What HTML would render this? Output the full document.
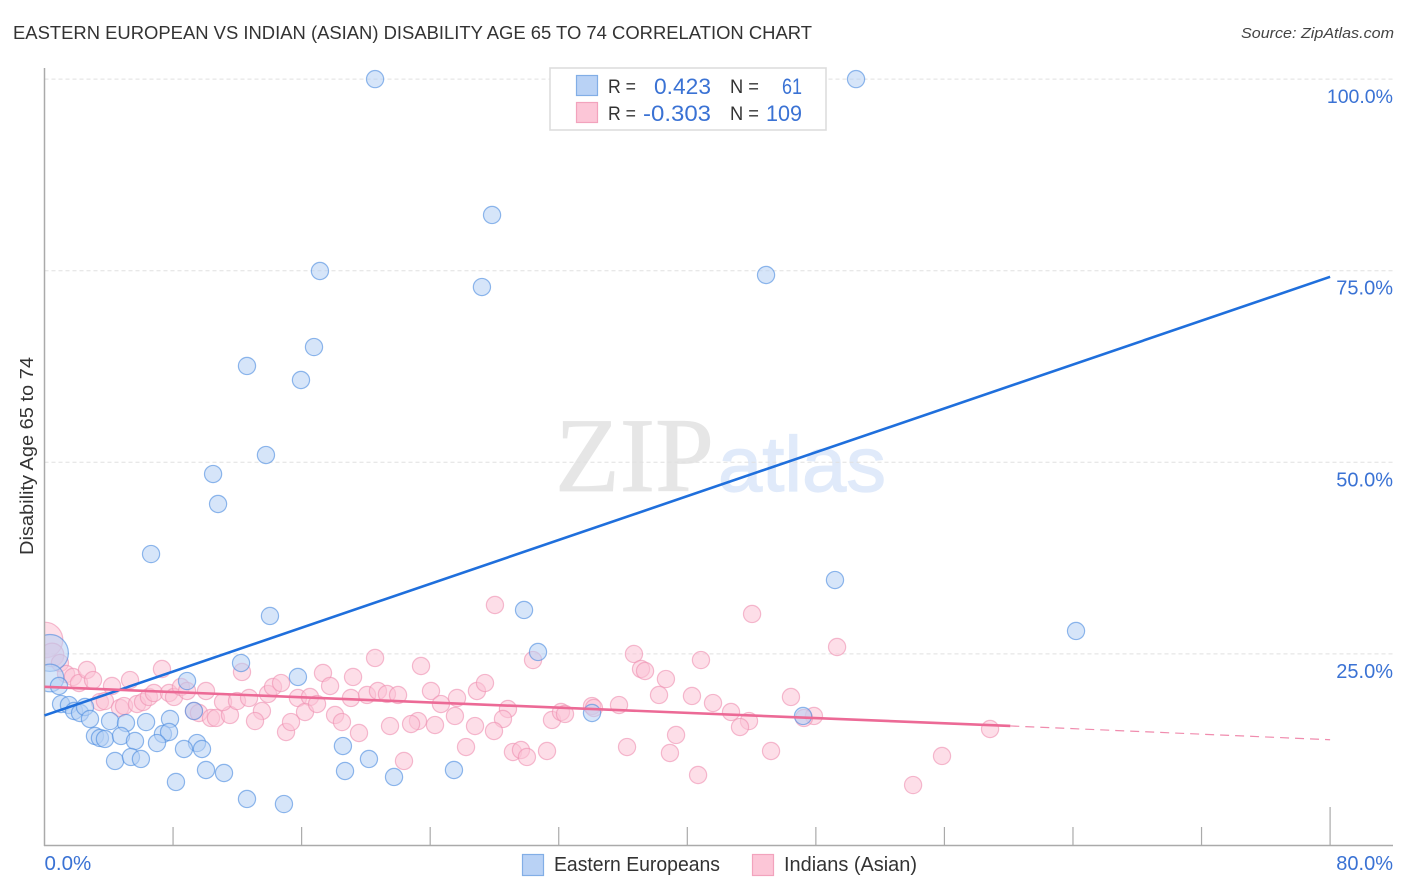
<!DOCTYPE html>
<html lang="en">
<head>
<meta charset="utf-8">
<title>Eastern European vs Indian (Asian) Disability Age 65 to 74 Correlation Chart</title>
<style>
html,body{margin:0;padding:0;background:#fff;}
svg{display:block;font-family:"Liberation Sans",sans-serif;}
</style>
</head>
<body>
<svg id="chart" xmlns="http://www.w3.org/2000/svg" width="1406" height="892" viewBox="0 0 1406 892">
  <rect x="0" y="0" width="1406" height="892" fill="#fff"></rect>
  <text x="13" y="39" font-size="18.5" fill="#333" textLength="799" lengthAdjust="spacingAndGlyphs">EASTERN EUROPEAN VS INDIAN (ASIAN) DISABILITY AGE 65 TO 74 CORRELATION CHART</text>
  <text x="1394" y="38" font-size="15" font-style="italic" fill="#444" text-anchor="end" textLength="153" lengthAdjust="spacingAndGlyphs">Source: ZipAtlas.com</text>
  <g>
    <text x="555" y="491" font-family="'Liberation Serif',serif" font-size="106" fill="#e6e6e6" stroke="#e6e6e6" stroke-width="0.8" textLength="159" lengthAdjust="spacingAndGlyphs">ZIP</text>
    <text x="718" y="491" font-size="78" fill="#e0eafa" stroke="#e0eafa" stroke-width="1.2" textLength="168" lengthAdjust="spacingAndGlyphs">atlas</text>
  </g>
  <g id="grid"></g>
  <g id="points"></g>
  <rect x="0" y="60" width="44" height="790" fill="#fff"></rect>
  <g id="axes"></g>
  <g id="trends"></g>
  <g id="labels"></g>
  <text transform="translate(33 456) rotate(-90)" font-size="18.5" fill="#333" text-anchor="middle" textLength="198" lengthAdjust="spacingAndGlyphs">Disability Age 65 to 74</text>
  <g>
    <rect x="550" y="68" width="276" height="62" fill="#fff" stroke="#ddd" stroke-width="1.6"></rect>
    <rect x="576.5" y="75.5" width="21" height="20" fill="#b9d2f5" stroke="#82aee6" stroke-width="1.2"></rect>
    <rect x="576.5" y="102.5" width="21" height="20" fill="#fcc6d7" stroke="#f2a3bd" stroke-width="1.2"></rect>
    <text x="608" y="93" font-size="19" fill="#333" textLength="28" lengthAdjust="spacingAndGlyphs">R =</text>
    <text x="608" y="120" font-size="19" fill="#333" textLength="28" lengthAdjust="spacingAndGlyphs">R =</text>
    <text x="654" y="94" font-size="22" fill="#3a72d4" textLength="57" lengthAdjust="spacingAndGlyphs">0.423</text>
    <text x="643" y="121" font-size="22" fill="#3a72d4" textLength="68" lengthAdjust="spacingAndGlyphs">-0.303</text>
    <text x="730" y="93" font-size="19" fill="#333" textLength="29" lengthAdjust="spacingAndGlyphs">N =</text>
    <text x="730" y="120" font-size="19" fill="#333" textLength="29" lengthAdjust="spacingAndGlyphs">N =</text>
    <text x="782" y="94" font-size="22" fill="#3a72d4" textLength="20" lengthAdjust="spacingAndGlyphs">61</text>
    <text x="766" y="121" font-size="22" fill="#3a72d4" textLength="36" lengthAdjust="spacingAndGlyphs">109</text>
  </g>
  <g>
    <rect x="522.5" y="854.5" width="21" height="21" fill="#b9d2f5" stroke="#82aee6" stroke-width="1.2"></rect>
    <text x="554" y="871" font-size="20" fill="#333" textLength="166" lengthAdjust="spacingAndGlyphs">Eastern Europeans</text>
    <rect x="752.5" y="854.5" width="21" height="21" fill="#fcc6d7" stroke="#f2a3bd" stroke-width="1.2"></rect>
    <text x="784" y="871" font-size="20" fill="#333" textLength="133" lengthAdjust="spacingAndGlyphs">Indians (Asian)</text>
  </g>
</svg>
<script>
var easternX = [0.34,0.34,20.57,50.5,27.85,17.14,27.22,44.9,16.77,15.96,12.6,13.78,10.49,10.8,6.63,49.19,29.84,14.03,64.19,30.71,12.23,8.87,15.77,0.9,1.03,1.52,1.84,2.21,2.52,2.83,4.08,5.07,6.32,7.81,3.14,3.45,3.76,4.76,5.63,7.37,7.75,7.0,9.49,9.8,8.68,4.39,5.38,6.0,10.05,11.17,8.18,12.6,14.9,18.57,18.7,20.19,21.75,25.48,34.07,47.2,9.3];
var easternY = [25.12,21.86,100,100,82.27,74.96,72.87,74.44,65.04,60.74,62.57,50.95,48.47,44.56,38.03,34.64,30.73,29.95,27.99,25.25,23.81,21.46,21.99,20.81,18.46,18.33,17.55,17.29,18.07,16.51,16.24,15.98,16.11,16.51,14.29,14.03,13.9,14.29,13.64,14.55,14.81,13.37,13.37,12.59,12.59,11.03,11.55,11.29,9.85,9.46,8.29,6.07,5.41,12.98,9.72,11.29,8.94,9.85,17.29,16.9,17.55];
var easternWeight = [4.6,2.6];
var indianX = [0.03,0.47,0.96,1.34,1.77,2.15,2.64,3.02,4.2,5.32,7.31,3.45,3.76,4.7,4.95,5.76,6.13,6.5,6.81,7.75,8.06,8.49,8.87,10.05,9.3,9.61,10.36,10.67,11.54,11.11,11.98,12.73,13.91,14.22,14.72,13.53,13.1,15.03,15.34,15.77,16.52,16.21,16.96,17.33,17.77,18.08,18.51,19.07,19.2,28.03,20.57,23.43,20.07,20.75,21.31,22.0,24.05,25.67,24.67,25.54,26.91,27.41,28.84,28.53,27.97,26.79,24.3,23.24,22.81,21.5,19.57,22.37,26.23,29.15,29.65,30.02,31.27,31.58,32.14,32.39,30.4,34.07,34.19,35.75,36.68,37.12,37.37,38.67,38.24,40.29,36.25,39.3,38.92,40.67,40.85,44.03,49.32,41.6,42.72,43.84,43.28,46.45,47.88,47.26,58.84,55.85,54.05,45.21,12.29];
var indianY = [26.81,24.86,23.81,22.38,21.99,21.2,22.9,21.59,20.81,21.59,23.03,18.72,18.85,17.94,18.2,18.46,18.72,19.38,19.9,19.9,19.38,20.68,20.16,20.16,17.55,17.29,16.64,16.64,17.03,18.72,18.85,19.25,19.77,20.68,21.2,17.55,16.24,14.81,16.11,19.25,19.38,17.42,18.46,22.51,20.81,17.03,16.11,19.25,21.99,31.38,24.47,23.42,19.64,20.16,19.77,19.64,20.16,19.25,18.46,16.9,20.16,21.2,17.81,16.51,14.94,15.59,15.72,16.24,15.85,15.59,14.68,11.03,12.85,12.2,12.46,11.55,12.33,16.38,17.42,17.16,24.2,18.2,17.94,18.33,24.99,23.03,22.77,21.72,19.64,19.51,12.85,14.42,12.07,9.2,24.2,30.21,25.9,18.59,17.42,16.24,15.46,19.38,16.9,16.64,15.2,11.68,7.89,12.33,22.64];
var indianWeight = [4.3,1.9];
var easternTrendX = [0,80];
var easternTrendY = [16.97,74.2];
var indianTrendX = [0,60.1];
var indianTrendY = [20.7,15.6];
var indianForecastX = [60.1,80];
var indianForecastY = [15.6,13.8];
var xTicks = [0,8,16,24,32,40,48,56,64,72,80];
var yGridTicks = [100,75,50,25];
var yTickLabels = ["100.0%","75.0%","50.0%","25.0%"];
var xEndValues = [0,80];
var xEndLabels = ["0.0%","80.0%"];

var NS = "http://www.w3.org/2000/svg";
function xScale(v){ return 44.5 + v * 16.07; }
function yScale(v){ return 845.5 - v * 7.664; }
function make(tag, parent){
  var el = document.createElementNS(NS, tag);
  parent.appendChild(el);
  return el;
}
var gridG = document.getElementById("grid");
var axesG = document.getElementById("axes");
var pointsG = document.getElementById("points");
var trendsG = document.getElementById("trends");
var labelsG = document.getElementById("labels");

yGridTicks.forEach(function(t, i){
  var g = make("line", gridG);
  
  
  g.setAttribute("x1", 44.5);
  g.setAttribute("x2", 1393);
  g.setAttribute("y1", yScale(t));
  g.setAttribute("y2", yScale(t));
  g.setAttribute("stroke", "#e0e0e0");
  g.setAttribute("stroke-width", "1");
  g.setAttribute("stroke-dasharray", "4 3");
  var lab = make("text", labelsG);
  
  
  lab.setAttribute("x", 1393);
  lab.setAttribute("y", yScale(t) + 24);
  lab.setAttribute("font-size", i === 0 ? "19.5" : "20");
  lab.setAttribute("fill", "#3a72d4");
  lab.setAttribute("text-anchor", "end");
  lab.textContent = yTickLabels[i];
});

var leftAxis = make("line", axesG);


leftAxis.setAttribute("x1", 44.5);
leftAxis.setAttribute("x2", 44.5);
leftAxis.setAttribute("y1", 68);
leftAxis.setAttribute("y2", 846);
leftAxis.setAttribute("stroke", "#aaa");
leftAxis.setAttribute("stroke-width", "1.5");
var bottomAxis = make("line", axesG);


bottomAxis.setAttribute("x1", 44);
bottomAxis.setAttribute("x2", 1393);
bottomAxis.setAttribute("y1", 845.5);
bottomAxis.setAttribute("y2", 845.5);
bottomAxis.setAttribute("stroke", "#aaa");
bottomAxis.setAttribute("stroke-width", "1.5");

xTicks.forEach(function(t){
  if (t === 0) return;
  var tick = make("line", axesG);
  
  
  tick.setAttribute("x1", xScale(t));
  tick.setAttribute("x2", xScale(t));
  tick.setAttribute("y1", t === 80 ? 807 : 827);
  tick.setAttribute("y2", 845);
  tick.setAttribute("stroke", "#aaa");
  tick.setAttribute("stroke-width", "1.2");
});

xEndValues.forEach(function(t, i){
  var lab = make("text", labelsG);
  
  
  lab.setAttribute("x", i === 0 ? xScale(t) : 1393);
  lab.setAttribute("y", 870);
  lab.setAttribute("font-size", i === 0 ? "20.5" : "20");
  lab.setAttribute("fill", "#3a72d4");
  lab.setAttribute("text-anchor", i === 0 ? "start" : "end");
  lab.textContent = xEndLabels[i];
});

function drawPoints(xs, ys, weights, fill, stroke, name){
  xs.forEach(function(x, i){
    var w = weights[i] || 1;
    var c = make("circle", pointsG);
    
    
    c.setAttribute("cx", xScale(x));
    c.setAttribute("cy", yScale(ys[i]));
    c.setAttribute("r", 8.6 * Math.sqrt(w));
    c.setAttribute("fill", fill);
    c.setAttribute("fill-opacity", "0.55");
    c.setAttribute("stroke", stroke);
    c.setAttribute("stroke-opacity", "0.6");
    c.setAttribute("stroke-width", "1.2");
  });
}
drawPoints(indianX, indianY, indianWeight, "#fbc3d5", "#ee8fb0", "indian-point");
drawPoints(easternX, easternY, easternWeight, "#b5d0f4", "#4a8ae0", "eastern-point");

function drawLine(xs, ys, color, width, dash, name){
  var l = make("line", trendsG);
  
  
  l.setAttribute("x1", xScale(xs[0]));
  l.setAttribute("y1", yScale(ys[0]));
  l.setAttribute("x2", xScale(xs[1]));
  l.setAttribute("y2", yScale(ys[1]));
  l.setAttribute("stroke", color);
  l.setAttribute("stroke-width", width);
  if (dash) l.setAttribute("stroke-dasharray", dash);
}
drawLine(easternTrendX, easternTrendY, "#1f6fdc", 2.6, null, "eastern-trend-line");
drawLine(indianForecastX, indianForecastY, "#f08cae", 1.2, "9 6", "indian-trend-forecast");
drawLine(indianTrendX, indianTrendY, "#ec6a96", 2.6, null, "indian-trend-line");
</script>
</body>
</html>
